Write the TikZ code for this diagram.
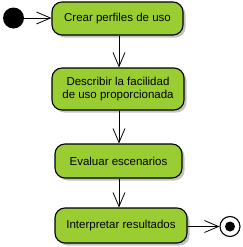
\documentclass[tikz,border=0pt]{standalone}
\usepackage{fontspec}
\setmainfont{Liberation Sans}
\usetikzlibrary{arrows.meta,shadows,calc}
\definecolor{actgreen}{RGB}{154,205,50}
\tikzset{
  act/.style={draw=black, line width=1.1pt, fill=actgreen, rounded corners=10pt,
    align=center, font=\fontsize{11.5}{13}\selectfont, inner sep=0pt,
    drop shadow={shadow xshift=2.5pt, shadow yshift=-2.5pt, fill=black!40, opacity=0.6}},
  arr/.style={draw=black, line width=0.8pt, -{Straight Barb[length=14pt,width=12pt,line width=0.8pt]}},
}
\begin{document}
\begin{tikzpicture}[x=1pt,y=-1pt]
\useasboundingbox (0,0) rectangle (243,247);
\node[circle, fill=black, minimum size=21pt, inner sep=0pt] (init) at (13.5,18) {};
\node[act, minimum width=131pt, minimum height=33pt] (b1) at (117.5,18.5) {Crear perfiles de uso};
\node[act, minimum width=132pt, minimum height=42pt] (b2) at (118,89) {Describir la facilidad\\de uso proporcionada};
\node[act, minimum width=127pt, minimum height=34pt] (b3) at (118.5,161) {Evaluar escenarios};
\node[act, minimum width=132pt, minimum height=35pt] (b4) at (121,225.5) {Interpretar resultados};
\node[circle, draw=black, line width=1.1pt, fill=white, minimum size=20pt, inner sep=0pt] (fin) at (230,226.5) {};
\fill[black] (fin.center) circle (5);
\coordinate (a1) at ($(b1.south)+(1.5,0)$);
\coordinate (a2) at ($(b2.south)+(1,0)$);
\coordinate (a3) at ($(b3.south)+(0.5,0)$);
\draw[arr] (init.east) -- (b1.west |- init.east);
\draw[arr] (a1) -- (a1 |- b2.north);
\draw[arr] (a2) -- (a2 |- b3.north);
\draw[arr] (a3) -- (a3 |- b4.north);
\draw[arr] (b4.east |- fin.west) -- (fin.west);
\end{tikzpicture}
\end{document}
